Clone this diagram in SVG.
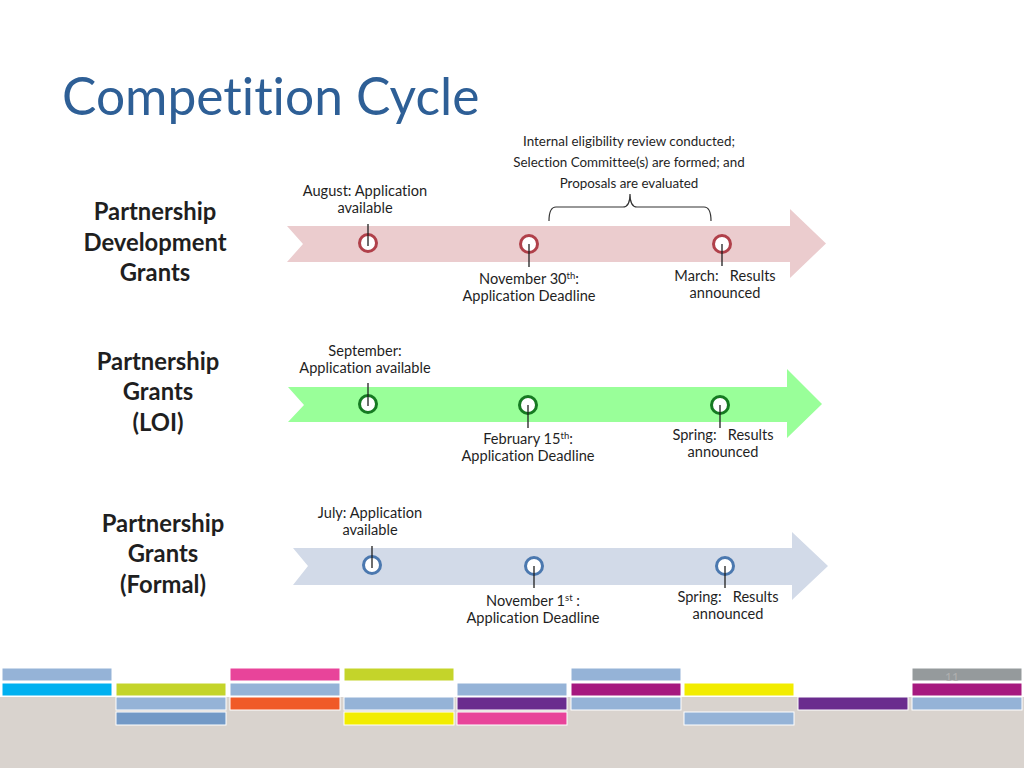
<svg xmlns="http://www.w3.org/2000/svg" width="1024" height="768" viewBox="0 0 1024 768">
<style>
text{font-family:Lato,"Open Sans","Liberation Sans",sans-serif;fill:#1f1f1f;font-variant-ligatures:none}
.t{font-size:14.6px;text-anchor:middle}
.s{font-size:13.4px;text-anchor:middle}
.h{font-size:23.8px;font-weight:bold;text-anchor:middle}
.sup{font-size:9.5px}
.tick{stroke:#1f1f1f;stroke-width:1.3}
.cr{fill:#fff;stroke:#B0404A;stroke-width:3}
.cg{fill:#fff;stroke:#167A22;stroke-width:3}
.cb{fill:#fff;stroke:#4B78AF;stroke-width:3}
.ft rect{stroke:#fff;stroke-width:1}
</style>
<rect width="1024" height="768" fill="#fff"/>
<text x="62" y="115" style="font-size:51.5px;fill:#2E5F96">Competition Cycle</text>

<g id="labels">
<text class="h" x="155" y="220">Partnership</text>
<text class="h" x="155" y="251">Development</text>
<text class="h" x="155" y="281">Grants</text>
<text class="h" x="158" y="370">Partnership</text>
<text class="h" x="158" y="400">Grants</text>
<text class="h" x="158" y="431">(LOI)</text>
<text class="h" x="163" y="532">Partnership</text>
<text class="h" x="163" y="562">Grants</text>
<text class="h" x="163" y="593">(Formal)</text>
</g>

<g id="arrow-pdg">
<polygon points="287,226 790,226 790,209 826,243.5 790,278 790,262 287,262 303,244" fill="#EBCCCE"/>
</g>
<g id="arrow-pg-loi">
<polygon points="288,387 787,387 787,369 822,404 787,438 787,422 288,422 304,405" fill="#99FF99"/>
</g>
<g id="arrow-pg-formal">
<polygon points="293,548 792,548 792,532 828,566 792,600 792,585 293,585 308,566" fill="#D2DAE8"/>
</g>

<g id="brace">
<path d="M549,221 Q549,207 556,207 L623,207 Q630,207 630,194 Q630,207 637,207 L704,207 Q711,207 711,221" fill="none" stroke="#333" stroke-width="1.2"/>
<text class="s" x="629" y="146">Internal eligibility review conducted;</text>
<text class="s" x="629" y="167">Selection Committee(s) are formed; and</text>
<text class="s" x="629" y="188">Proposals are evaluated</text>
</g>

<g id="pdg-aug">
<circle class="cr" cx="368" cy="243" r="8.5"/>
<line class="tick" x1="368" y1="224" x2="368" y2="246"/>
<text class="t" x="365" y="196">August: Application</text>
<text class="t" x="365" y="213">available</text>
</g>
<g id="pdg-nov">
<circle class="cr" cx="529" cy="244" r="8.5"/>
<line class="tick" x1="529" y1="244" x2="529" y2="267"/>
<text class="t" x="529" y="284">November 30<tspan class="sup" dy="-5">th</tspan><tspan dy="5">:</tspan></text>
<text class="t" x="529" y="301">Application Deadline</text>
</g>
<g id="pdg-mar">
<circle class="cr" cx="722" cy="244" r="8.5"/>
<line class="tick" x1="722" y1="244" x2="722" y2="266"/>
<text class="t" x="725" y="281" xml:space="preserve">March:   Results</text>
<text class="t" x="725" y="298">announced</text>
</g>

<g id="loi-sep">
<circle class="cg" cx="368" cy="404" r="8.5"/>
<line class="tick" x1="368" y1="383" x2="368" y2="406"/>
<text class="t" x="365" y="356">September:</text>
<text class="t" x="365" y="373">Application available</text>
</g>
<g id="loi-feb">
<circle class="cg" cx="528" cy="405" r="8.5"/>
<line class="tick" x1="528" y1="405" x2="528" y2="428"/>
<text class="t" x="528" y="444">February 15<tspan class="sup" dy="-5">th</tspan><tspan dy="5">:</tspan></text>
<text class="t" x="528" y="461">Application Deadline</text>
</g>
<g id="loi-spring">
<circle class="cg" cx="720" cy="405" r="8.5"/>
<line class="tick" x1="720" y1="405" x2="720" y2="428"/>
<text class="t" x="723" y="440" xml:space="preserve">Spring:   Results</text>
<text class="t" x="723" y="457">announced</text>
</g>

<g id="formal-jul">
<circle class="cb" cx="372" cy="565" r="8.5"/>
<line class="tick" x1="372" y1="546" x2="372" y2="568"/>
<text class="t" x="370" y="518">July: Application</text>
<text class="t" x="370" y="535">available</text>
</g>
<g id="formal-nov">
<circle class="cb" cx="534" cy="566" r="8.5"/>
<line class="tick" x1="534" y1="566" x2="534" y2="588"/>
<text class="t" x="533" y="606">November 1<tspan class="sup" dy="-5">st</tspan><tspan dy="5"> :</tspan></text>
<text class="t" x="533" y="623">Application Deadline</text>
</g>
<g id="formal-spring">
<circle class="cb" cx="725" cy="566" r="8.5"/>
<line class="tick" x1="725" y1="566" x2="725" y2="588"/>
<text class="t" x="728" y="602" xml:space="preserve">Spring:   Results</text>
<text class="t" x="728" y="619">announced</text>
</g>

<g id="footer" class="ft">
<rect x="0" y="697" width="1024" height="71" fill="#D9D3CE" style="stroke:none"/>
<rect x="2" y="668" width="110" height="13" fill="#95B3D7"/>
<rect x="230" y="668" width="110" height="13" fill="#E8449A"/>
<rect x="344" y="668" width="110" height="13" fill="#C4D42A"/>
<rect x="571" y="668" width="110" height="13" fill="#95B3D7"/>
<rect x="912" y="668" width="110" height="13" fill="#959A9C"/>
<rect x="2" y="683" width="110" height="13" fill="#00B0F0"/>
<rect x="116" y="683" width="110" height="13" fill="#C4D42A"/>
<rect x="230" y="683" width="110" height="13" fill="#95B3D7"/>
<rect x="457" y="683" width="110" height="13" fill="#95B3D7"/>
<rect x="571" y="683" width="110" height="13" fill="#A6197F"/>
<rect x="684" y="683" width="110" height="13" fill="#F2EC00"/>
<rect x="912" y="683" width="110" height="13" fill="#A6197F"/>
<rect x="116" y="697" width="110" height="13" fill="#95B3D7"/>
<rect x="230" y="697" width="110" height="13" fill="#F05A28"/>
<rect x="344" y="697" width="110" height="13" fill="#95B3D7"/>
<rect x="457" y="697" width="110" height="13" fill="#6A2C8E"/>
<rect x="571" y="697" width="110" height="13" fill="#95B3D7"/>
<rect x="798" y="697" width="110" height="13" fill="#6A2C8E"/>
<rect x="912" y="697" width="110" height="13" fill="#95B3D7"/>
<rect x="116" y="712" width="110" height="13" fill="#7399C6"/>
<rect x="344" y="712" width="110" height="13" fill="#F2EC00"/>
<rect x="457" y="712" width="110" height="13" fill="#E8449A"/>
<rect x="684" y="712" width="110" height="13" fill="#95B3D7"/>
<text x="952" y="681" style="font-size:12px;fill:#B0B0B0;text-anchor:middle">11</text>
</g>
</svg>
